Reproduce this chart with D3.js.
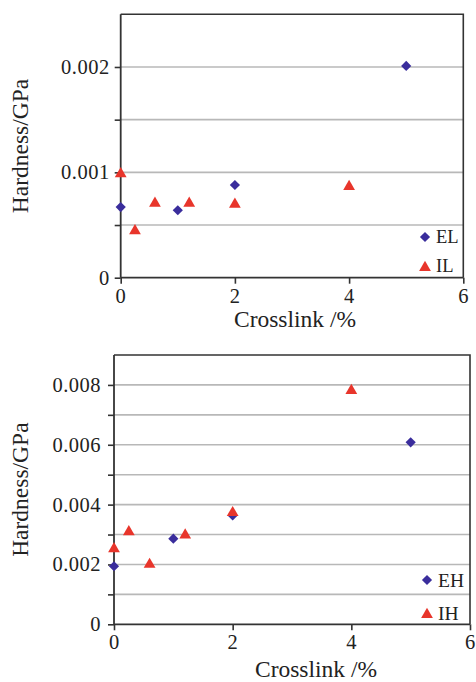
<!DOCTYPE html>
<html><head><meta charset="utf-8">
<script src="https://cdn.jsdelivr.net/npm/d3@7"></script>
<style>
html,body{margin:0;padding:0;background:#fff;}
svg text{font-family:"Liberation Serif","Times New Roman",serif;fill:#222;}
</style></head>
<body>
<svg id="chart" width="476" height="682"></svg>
<script>
// ---- data ----
const crosslinkEL = [0, 1, 2, 5];
const hardnessEL  = [0.00067, 0.00064, 0.00088, 0.00201];
const crosslinkIL = [0, 0.25, 0.6, 1.2, 2, 4];
const hardnessIL  = [0.00100, 0.00046, 0.00072, 0.00072, 0.00071, 0.00088];

const crosslinkEH = [0, 1, 2, 5];
const hardnessEH  = [0.00194, 0.00286, 0.00364, 0.00608];
const crosslinkIH = [0, 0.25, 0.6, 1.2, 2, 4];
const hardnessIH  = [0.00257, 0.00314, 0.00205, 0.00303, 0.00378, 0.00786];

const xTicks = [0, 2, 4, 6];
const yTicksTop = [0, 0.0005, 0.001, 0.0015, 0.002];
const yLabelsTop = [0, 0.001, 0.002];
const yTicksBottom = [0, 0.001, 0.002, 0.003, 0.004, 0.005, 0.006, 0.007, 0.008];
const yLabelsBottom = [0, 0.002, 0.004, 0.006, 0.008];

const svg = d3.select("#chart");
const BLUE = "#3a2d9c", RED = "#e8352b";

function panel(cfg) {
  const x = d3.scaleLinear().domain([0, 6]).range([cfg.left, cfg.right]);
  const y = d3.scaleLinear().domain([0, cfg.ymax]).range([cfg.bottom, cfg.top]);
  const g = svg.append("g");

  g.selectAll("line.grid").data(cfg.yTicks.filter(d => d > 0)).enter()
    .append("line").attr("class", "grid")
    .attr("x1", cfg.left).attr("x2", cfg.right)
    .attr("y1", d => y(d)).attr("y2", d => y(d))
    .attr("stroke", "#b8b8b8").attr("stroke-width", 1.6);

  g.append("path")
    .attr("d", `M${cfg.left},${cfg.top}H${cfg.right}V${cfg.bottom}`)
    .attr("fill", "none").attr("stroke", "#333").attr("stroke-width", 1.6);

  const isLabel = d => cfg.yLabels.some(v => Math.abs(v - d) < 1e-9);
  const yAxis = d3.axisLeft(y).tickValues(cfg.yTicks).tickSize(6).tickFormat("");
  const ya = g.append("g").attr("transform", `translate(${cfg.left},0)`).call(yAxis);
  ya.select(".domain").attr("d", `M-0,${cfg.top}V${cfg.bottom}`).attr("stroke", "#333").attr("stroke-width", 1.8);
  ya.selectAll(".tick line").attr("stroke", "#333").attr("stroke-width", 1.6);
  ya.selectAll(".tick text").remove();
  g.selectAll("text.ylab").data(cfg.yTicks.filter(isLabel)).enter()
    .append("text").attr("class", "ylab")
    .attr("x", cfg.left + cfg.yLabelX).attr("y", d => y(d)).attr("dy", "0.34em")
    .attr("text-anchor", "end").attr("font-size", 20.5).attr("letter-spacing", 0.5)
    .text(d => d === 0 ? "0" : d3.format(".3f")(d));

  const xAxis = d3.axisBottom(x).tickValues(xTicks).tickSize(6).tickFormat("");
  const xa = g.append("g").attr("transform", `translate(0,${cfg.bottom})`).call(xAxis);
  xa.select(".domain").attr("d", `M${cfg.left},0H${cfg.right}`).attr("stroke", "#333").attr("stroke-width", 1.8);
  xa.selectAll(".tick line").attr("stroke", "#333").attr("stroke-width", 1.6);
  xa.selectAll(".tick text").remove();
  g.selectAll("text.xlab").data(xTicks).enter()
    .append("text").attr("class", "xlab")
    .attr("x", d => x(d)).attr("y", cfg.bottom + cfg.xLabelY).attr("dy", "0.71em")
    .attr("text-anchor", "middle").attr("font-size", 20.5)
    .text(d3.format("d"));

  g.append("text").attr("x", cfg.xTitleX).attr("y", cfg.xTitleY)
    .attr("text-anchor", "middle").attr("font-size", 23.5).text("Crosslink /%");
  g.append("text").attr("transform", `translate(28,${(cfg.top + cfg.bottom) / 2}) rotate(-90)`)
    .attr("text-anchor", "middle").attr("font-size", 23.5).text("Hardness/GPa");

  const diamond = d3.symbol().type(d3.symbolSquare).size(52)();
  const tri = d3.symbol().type(d3.symbolTriangle).size(60)();

  g.selectAll("path.e").data(cfg.ex.map((v, i) => [v, cfg.ey[i]])).enter()
    .append("path").attr("class", "e").attr("d", diamond)
    .attr("transform", d => `translate(${x(d[0])},${y(d[1])}) rotate(45)`)
    .attr("fill", BLUE);
  g.selectAll("path.i").data(cfg.ix.map((v, i) => [v, cfg.iy[i]])).enter()
    .append("path").attr("class", "i").attr("d", tri)
    .attr("transform", d => `translate(${x(d[0])},${y(d[1]) + 1.5})`)
    .attr("fill", RED);

  const lg = g.append("g");
  lg.append("path").attr("d", diamond)
    .attr("transform", `translate(${cfg.legX},${cfg.legY1}) rotate(45)`).attr("fill", BLUE);
  lg.append("text").attr("x", cfg.legX + 11).attr("y", cfg.legY1).attr("dy", "0.35em")
    .attr("font-size", cfg.legFont).text(cfg.names[0]);
  lg.append("path").attr("d", tri)
    .attr("transform", `translate(${cfg.legX},${cfg.legY2 + 1.5})`).attr("fill", RED);
  lg.append("text").attr("x", cfg.legX + 11).attr("y", cfg.legY2).attr("dy", "0.35em")
    .attr("font-size", cfg.legFont).text(cfg.names[1]);
}

panel({
  left: 120.7, right: 463.3, top: 14.3, bottom: 277.7, ymax: 0.0025,
  yTicks: yTicksTop, yLabels: yLabelsTop, yLabelX: -11, xLabelY: 11,
  ex: crosslinkEL, ey: hardnessEL, ix: crosslinkIL, iy: hardnessIL,
  names: ["EL", "IL"], legX: 425, legY1: 237, legY2: 266, legFont: 18.5,
  xTitleX: 295, xTitleY: 327
});

panel({
  left: 114, right: 470, top: 355, bottom: 624.3, ymax: 0.009,
  yTicks: yTicksBottom, yLabels: yLabelsBottom, yLabelX: -13, xLabelY: 10,
  ex: crosslinkEH, ey: hardnessEH, ix: crosslinkIH, iy: hardnessIH,
  names: ["EH", "IH"], legX: 427, legY1: 580, legY2: 613, legFont: 19.5,
  xTitleX: 316, xTitleY: 677
});
</script>
</body></html>
